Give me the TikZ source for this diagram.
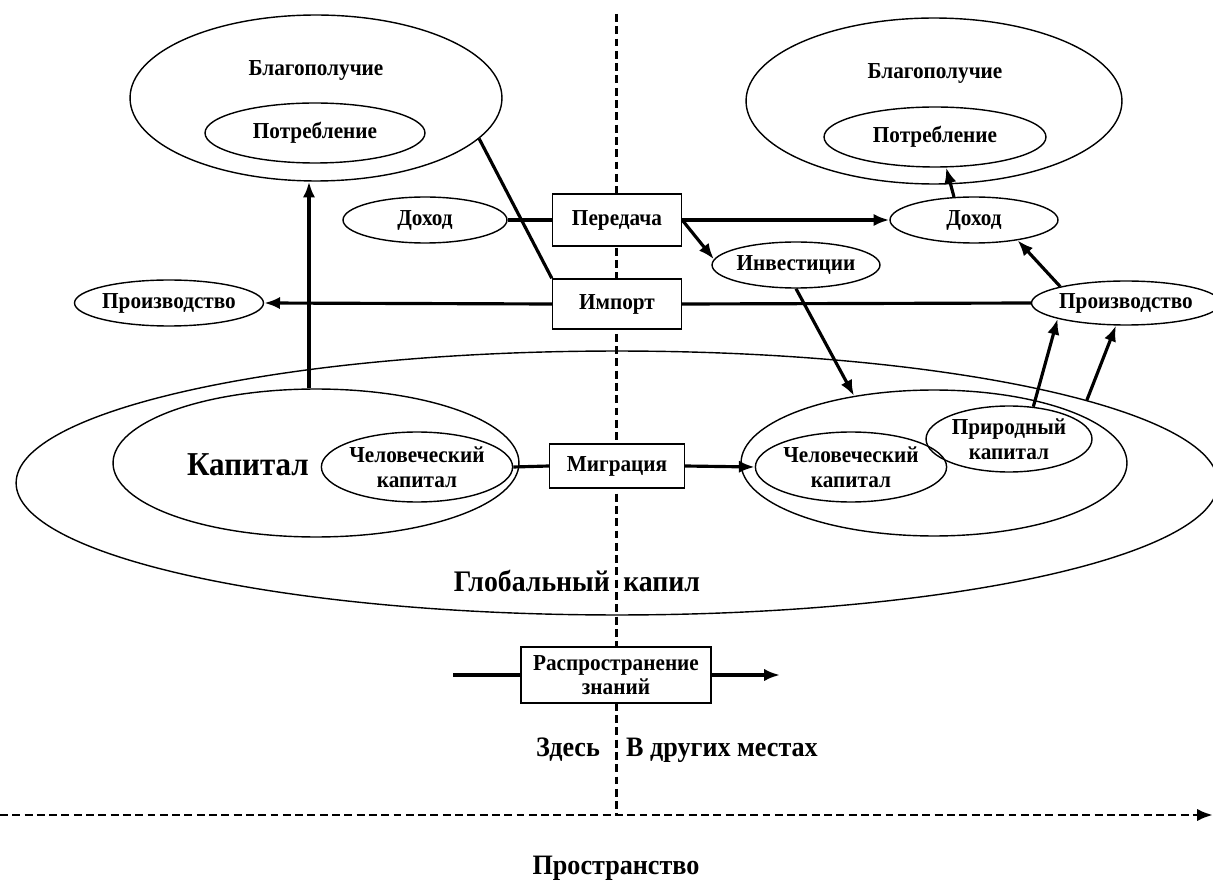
\documentclass[tikz,border=0pt]{standalone}
\usepackage{fontspec}
\setmainfont{Liberation Serif}[FakeStretch=0.93]
\usetikzlibrary{shapes.geometric,arrows.meta,calc}

\begin{document}
\begin{tikzpicture}[>={Latex[length=9pt,width=7pt]},x=0.02cm,y=-0.02cm,
	el/.style={draw,ellipse,line width=0.8pt,inner sep=0pt},
	bx/.style={draw,rectangle,fill=white,line width=0.8pt,inner sep=0pt,align=center},
	lbl/.style={font=\fontsize{13}{14}\selectfont\bfseries,align=center},
	big/.style={font=\fontsize{16}{18}\selectfont\bfseries},
	con/.style={line width=1.8pt},
	sep/.style={line width=1.7pt,dash pattern=on 4.5pt off 2.5pt}]
	\useasboundingbox (0,0) rectangle (1213,881);
	% here / elsewhere
	\coordinate (vtop) at (616,14);
	\coordinate (vbot) at (616,815);
	\coordinate (ax0) at (0,815);
	\coordinate (ax1) at (1213,815);
	\draw[sep] (vtop) -- (vbot);
	\draw[sep,->] (ax0) -- (ax1);
	% welfare
	\node[el,minimum width=7.44cm,minimum height=3.32cm] (wellL) at (316,98) {};
	\node[lbl] (wellLt) at (316,70) {Благополучие};
	\node[el,lbl,minimum width=4.4cm,minimum height=1.2cm] (consL) at (315,133) {Потребление};
	\node[el,minimum width=7.52cm,minimum height=3.32cm] (wellR) at (934,101) {};
	\node[lbl] (wellRt) at (935,73) {Благополучие};
	\node[el,lbl,minimum width=4.44cm,minimum height=1.2cm] (consR) at (935,137) {Потребление};
	% flows
	\node[el,lbl,minimum width=3.28cm,minimum height=0.92cm] (incL) at (425,220) {Доход};
	\node[el,lbl,minimum width=3.36cm,minimum height=0.92cm] (incR) at (974,220) {Доход};
	\node[bx,lbl,minimum width=2.58cm,minimum height=1.04cm] (trans) at (617,220) {Передача};
	\node[bx,lbl,minimum width=2.58cm,minimum height=1cm] (imp) at (617,304) {Импорт};
	\node[el,lbl,minimum width=3.32cm,minimum height=0.92cm] (inv) at (796,265) {Инвестиции};
	\node[el,lbl,minimum width=3.3cm,minimum height=0.92cm] (prodL) at (169,303) {Производство};
	\node[el,lbl,minimum width=3.24cm,minimum height=0.88cm] (prodR) at (1126,303) {Производство};
	% capital
	\node[el,minimum width=24.04cm,minimum height=5.28cm] (glob) at (617,483) {};
	\node[el,minimum width=8.12cm,minimum height=2.96cm] (capL) at (316,463) {};
	\node[lbl,font=\fontsize{19}{21}\selectfont\bfseries] (capLt) at (248,465) {Капитал};
	\node[el,lbl,minimum width=3.32cm,minimum height=1.4cm] (humL) at (417,467) {Человеческий\\капитал};
	\node[el,minimum width=7.72cm,minimum height=2.92cm] (capR) at (934,463) {};
	\node[el,lbl,minimum width=3.32cm,minimum height=1.4cm] (humR) at (851,467) {Человеческий\\капитал};
	\node[el,lbl,minimum width=3.32cm,minimum height=1.32cm] (nat) at (1009,439) {Природный\\капитал};
	\node[bx,lbl,minimum width=2.7cm,minimum height=0.88cm] (migr) at (617,466) {Миграция};
	\node[lbl,font=\fontsize{17}{19}\selectfont\bfseries] (globt) at (577,581) {Глобальный\hspace{0.45em}капил};
	% knowledge
	\node[bx,lbl,minimum width=3.8cm,minimum height=1.12cm] (diff) at (616,675) {Распространение\\знаний};
	\coordinate (dl) at (453,675);
	\coordinate (dr) at (780,675);
	\node[big] (here) at (568,750) {Здесь};
	\node[big] (else) at (722,750) {В других местах};
	\node[big] (space) at (616,868) {Пространство};
	% connectors
	\draw[con,->] ($(capL.north)+(-7,0)$) -- ($(wellL.south)+(-7,0)$);
	\draw[con] (wellL.-14) -- (imp.north west);
	\draw[con] (incL.east) -- (trans.west);
	\draw[con,->] (trans.east) -- (incR.west);
	\draw[con,->] (trans.east) -- (inv.176);
	\draw[con,->] (inv.south) -- (capR.140);
	\draw[con,->] (imp.west) -- (prodL.east);
	\draw[con] (imp.east) -- (prodR.west);
	\draw[con,->] (prodR.166) -- (incR.-25);
	\draw[con,->] (incR.131) -- (consR.-70);
	\draw[con,->] (nat.53) -- (prodR.193);
	\draw[con,->] (glob.10) -- (prodR.246);
	\draw[con] (humL.east) -- (migr.west);
	\draw[con,->] (migr.east) -- (humR.west);
	\draw[con] (dl) -- (diff.west);
	\draw[con,->] (diff.east) -- (dr);
\end{tikzpicture}
\end{document}
